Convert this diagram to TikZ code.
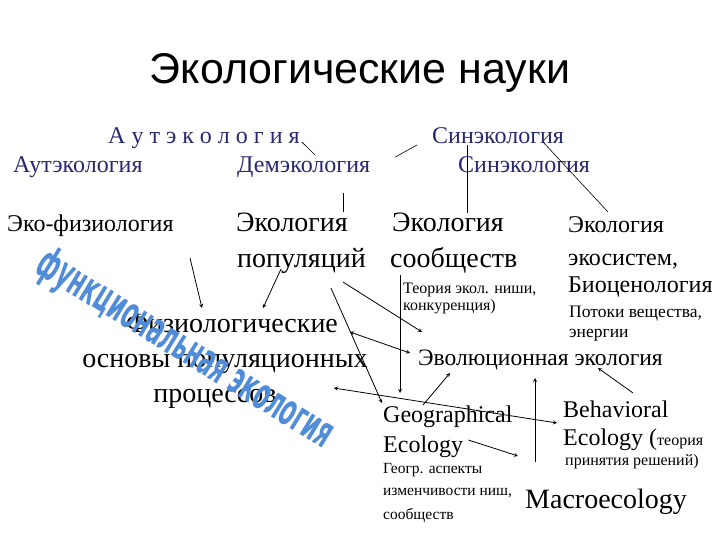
\documentclass[tikz,border=0pt]{standalone}
\usepackage{fontspec}
\setmainfont{Liberation Serif}
\newfontfamily\headfont{Liberation Sans}
\newfontfamily\wordart{DejaVu Sans}
\usetikzlibrary{arrows,calc}
\definecolor{slate}{RGB}{40,40,110}
\definecolor{artblue}{RGB}{80,140,215}
\tikzset{
    term/.style={inner sep=0pt,anchor=base west,font=\fontsize{24}{28}\selectfont},
    older/.style={term,text=slate},
    bigterm/.style={term,font=\fontsize{28}{32}\selectfont},
    note/.style={term,font=\fontsize{16}{19}\selectfont},
    pre/.style={->,thick,>=stealth},
    both/.style={<->,thick,>=stealth},
    bi/.style={-,semithick}
}

\begin{document}
\begin{tikzpicture}[x=1pt,y=-1pt]

                \useasboundingbox (0,0) rectangle (720,540);

                \node[term,anchor=base,font=\headfont\fontsize{43}{48}\selectfont] (title) at (360,84) {Экологические науки};

                % old names, top rows
                \node[older] (auto 0) at (108,144) {А у т э к о л о г и я};
                \node[older] (aut)    at (13,173)  {Аутэкология};
                \node[older] (dem)    at (237,173) {Демэкология};
                \node[older] (syn 1)  at (432,144) {Синэкология};
                \node[older] (syn 2)  at (458,173) {Синэкология};

                \node[term]    (fiz)    at (7,232)   {Эко-физиология};
                \node[bigterm] (pop 1)  at (236,232) {Экология};
                \node[bigterm] (pop 2)  at ($(pop 1.base west)+(1,35)$) {популяций};
                \node[bigterm] (comm 1) at (392,232) {Экология};
                \node[bigterm] (comm 2) at ($(comm 1.base west)+(-2,35)$) {сообществ};
                \node[note]    (niche 1) at (403,293) {Теория экол. ниши,};
                \node[note]    (niche 2) at ($(niche 1.base west)+(0,17)$) {конкуренция)};

                \node[term] (eco 1) at (568,233) {Экология};
                \node[term] (eco 2) at ($(eco 1.base west)+(0,32)$) {экосистем,};
                \node[term] (eco 3) at ($(eco 2.base west)+(0,27)$) {Биоценология};
                \node[note,font=\fontsize{17.5}{20}\selectfont] (flow 1) at (569,317) {Потоки вещества,};
                \node[note,font=\fontsize{17.5}{20}\selectfont] (flow 2) at ($(flow 1.base west)+(0,20)$) {энергии};

                \node[bigterm,anchor=base] (phys 1) at (232,332) {Физиологические};
                \node[bigterm,anchor=base] (phys 2) at (225,367) {основы популяционных};
                \node[bigterm,anchor=base] (phys 3) at (215,402) {процессов};

                \node[term,font=\fontsize{23.5}{28}\selectfont] (evol) at (418,365) {Эволюционная экология};

                \node[term] (geo 1) at (383,422) {Geographical};
                \node[term] (geo 2) at ($(geo 1.base west)+(0,30)$) {Ecology};
                \node[note,font=\fontsize{15.5}{18}\selectfont] (geo a) at (383,473) {Геогр. аспекты};
                \node[note,font=\fontsize{15.5}{18}\selectfont] (geo b) at ($(geo a.base west)+(0,22)$) {изменчивости ниш,};
                \node[note,font=\fontsize{15.5}{18}\selectfont] (geo c) at ($(geo b.base west)+(0,24)$) {сообществ};

                \node[term] (beh 1) at (563,417) {Behavioral};
                \node[term] (beh 2) at ($(beh 1.base west)+(0,28)$) {Ecology (\fontsize{16}{19}\selectfont теория};
                \node[note] (beh 3) at ($(beh 2.base west)+(2,20)$) {принятия решений)};

                \node[bigterm] (macro) at (525,508) {Macroecology};

                % loose ends
                \coordinate (fiz arr)   at (190,258);
                \coordinate (macro arr) at (535,462);
                \coordinate (geo arr)   at (518,456);

                % thin links
                \draw[bi] ($(auto 0.base east)+(2,-2)$) -- ($(dem.base west)+(78,-18)$);
                \draw[bi] ($(dem.base east)+(25,-16)$) -- ($(syn 1.base west)+(-15,1)$);
                \draw[bi] ($(dem.base west)+(106,20)$) -- ($(pop 1.base west)+(107,-20)$);
                \draw[bi] ($(syn 1.base west)+(35,1)$) -- ($(comm 1.base west)+(75,-19)$);
                \draw[bi] ($(syn 1.base west)+(111,-2)$) -- ($(eco 1.base west)+(40,-21)$);

                % arrows
                \draw[pre] (fiz arr) -- ($(phys 1.base)+(-30,-24)$);
                \draw[pre] ($(pop 2.base west)+(44,2)$) -- ($(phys 1.base)+(31,-24)$);
                \draw[pre] ($(pop 2.base east)+(-23,15)$) -- ($(evol.base west)+(4,-33)$);
                \draw[pre] ($(pop 2.base east)+(-35,21)$) -- ($(geo 1.base west)+(-1,-19)$);
                \draw[both] ($(phys 2.base east)+(-18,-35)$) -- ($(evol.base west)+(-8,-12)$);
                \draw[pre] ($(comm 2.base west)+(10,8)$) -- ($(geo 1.base west)+(17,-29)$);
                \draw[both] ($(phys 3.base east)+(57,-14)$) -- ($(beh 1.base west)+(-6,6)$);
                \draw[pre] ($(geo 1.base west)+(40,-17)$) -- ($(evol.base west)+(32,8)$);
                \draw[pre] (macro arr) -- ($(evol.base west)+(117,13)$);
                \draw[pre] ($(beh 1.base west)+(70,-24)$) -- ($(evol.base west)+(180,3)$);
                \draw[pre] ($(geo 2.base east)+(5,-12)$) -- (geo arr);

                % word art across the left block
                \node[text=artblue,font=\wordart\bfseries\fontsize{44}{50}\selectfont,rotate=-31.5,xscale=0.5] (wm) at (185,350) {функциональная экология};

\end{tikzpicture}
\end{document}
